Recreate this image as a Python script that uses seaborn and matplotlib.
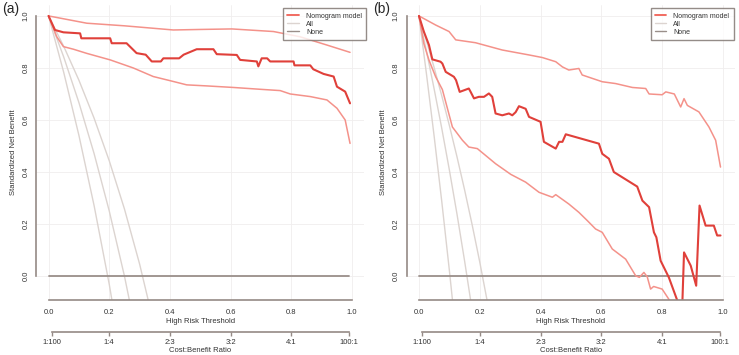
import matplotlib
matplotlib.use("Agg")
from matplotlib import pyplot as plt
from matplotlib.lines import Line2D
import seaborn as sns
import numpy as np
import pandas as pd

# ---- panel (a) data ----
a_up_x = [0.0, 0.126, 0.25, 0.411, 0.5, 0.604, 0.741, 0.828, 0.917, 0.993]
a_up_y = [1.0, 0.972, 0.962, 0.946, 0.948, 0.950, 0.940, 0.920, 0.888, 0.860]

a_mid_x = [0.0, 0.021, 0.049, 0.104, 0.108, 0.203, 0.208, 0.257, 0.29, 0.32, 0.34, 0.37,
           0.378, 0.43, 0.445, 0.488, 0.543, 0.554, 0.62, 0.631, 0.686, 0.691, 0.702,
           0.72, 0.73, 0.807, 0.81, 0.862, 0.872, 0.906, 0.939, 0.95, 0.977, 0.993]
a_mid_y = [1.0, 0.946, 0.937, 0.933, 0.914, 0.914, 0.895, 0.895, 0.857, 0.851, 0.825, 0.825,
           0.837, 0.837, 0.851, 0.872, 0.872, 0.853, 0.850, 0.831, 0.825, 0.806, 0.837,
           0.837, 0.825, 0.825, 0.810, 0.810, 0.795, 0.777, 0.767, 0.728, 0.709, 0.664]

a_lo_x = [0.0, 0.027, 0.049, 0.082, 0.126, 0.203, 0.279, 0.345, 0.411, 0.455, 0.521,
          0.609, 0.697, 0.763, 0.796, 0.862, 0.917, 0.95, 0.977, 0.993]
a_lo_y = [1.0, 0.920, 0.882, 0.872, 0.856, 0.831, 0.800, 0.767, 0.748, 0.735, 0.731,
          0.725, 0.718, 0.713, 0.700, 0.690, 0.677, 0.645, 0.600, 0.510]

a_all_x = [0.0, 0.05, 0.1, 0.15, 0.2, 0.25, 0.3, 0.35]
a_all_y1 = [1.0, 0.783, 0.541, 0.271, -0.032, -0.376, -0.6, -0.9]
a_all_y2 = [1.0, 0.842, 0.667, 0.471, 0.25, 0.0, -0.286, -0.6]
a_all_y3 = [1.0, 0.883, 0.753, 0.607, 0.443, 0.258, 0.046, -0.199]

# ---- panel (b) data ----
b_up_x = [0.0, 0.055, 0.099, 0.121, 0.186, 0.274, 0.362, 0.406, 0.45, 0.472, 0.493, 0.526,
          0.537, 0.603, 0.647, 0.702, 0.746, 0.757, 0.80, 0.812, 0.84, 0.861, 0.872, 0.883,
          0.921, 0.954, 0.976, 0.992]
b_up_y = [1.0, 0.965, 0.940, 0.908, 0.897, 0.869, 0.850, 0.840, 0.824, 0.804, 0.792, 0.798,
          0.773, 0.747, 0.740, 0.725, 0.721, 0.700, 0.697, 0.708, 0.700, 0.650, 0.682, 0.656,
          0.631, 0.573, 0.522, 0.419]

b_mid_x = [0.0, 0.016, 0.033, 0.044, 0.071, 0.077, 0.088, 0.115, 0.122, 0.134, 0.164,
           0.170, 0.181, 0.197, 0.214, 0.23, 0.241, 0.252, 0.274, 0.296, 0.307, 0.318,
           0.329, 0.351, 0.362, 0.40, 0.411, 0.45, 0.461, 0.472, 0.483, 0.592, 0.603,
           0.625, 0.641, 0.718, 0.735, 0.757, 0.773, 0.781, 0.795, 0.822, 0.858, 0.866,
           0.872, 0.894, 0.912, 0.923, 0.943, 0.97, 0.981, 0.992]
b_mid_y = [1.0, 0.940, 0.888, 0.833, 0.824, 0.817, 0.785, 0.766, 0.753, 0.708, 0.721,
           0.708, 0.683, 0.689, 0.689, 0.702, 0.689, 0.625, 0.618, 0.625, 0.618, 0.630,
           0.653, 0.643, 0.612, 0.593, 0.516, 0.490, 0.516, 0.516, 0.545, 0.509, 0.470,
           0.451, 0.400, 0.344, 0.290, 0.265, 0.168, 0.149, 0.059, -0.005, -0.12, -0.12,
           0.091, 0.040, -0.037, 0.271, 0.194, 0.194, 0.156, 0.156]

b_lo_x = [0.0, 0.016, 0.033, 0.055, 0.077, 0.11, 0.143, 0.164, 0.192, 0.252, 0.302,
          0.351, 0.395, 0.439, 0.45, 0.493, 0.526, 0.554, 0.581, 0.603, 0.636, 0.68,
          0.713, 0.725, 0.74, 0.751, 0.762, 0.772, 0.80, 0.822, 0.84]
b_lo_y = [1.0, 0.894, 0.830, 0.766, 0.717, 0.573, 0.522, 0.496, 0.490, 0.432, 0.391,
          0.361, 0.322, 0.303, 0.313, 0.277, 0.245, 0.213, 0.181, 0.168, 0.104, 0.065,
          0.001, -0.005, 0.014, -0.003, -0.050, -0.040, -0.050, -0.089, -0.13]

b_all_x = [0.0, 0.025, 0.05, 0.075, 0.1, 0.125, 0.15, 0.175, 0.2, 0.225, 0.25]
b_all_y1 = [1.0, 0.774, 0.537, 0.287, 0.022, -0.257, -0.55, -0.85, -1.1, -1.4, -1.7]
b_all_y2 = [1.0, 0.863, 0.719, 0.568, 0.408, 0.239, 0.059, -0.131, -0.33, -0.55, -0.78]
b_all_y3 = [1.0, 0.903, 0.801, 0.693, 0.579, 0.459, 0.332, 0.197, 0.054, -0.099, -0.262]

x_ticks = [0.0, 0.2, 0.4, 0.6, 0.8, 1.0]
y_ticks = [0.0, 0.2, 0.4, 0.6, 0.8, 1.0]
cb_pos = [0.01, 0.2, 0.4, 0.6, 0.8, 0.99]
cb_labels = ['1:100', '1:4', '2:3', '3:2', '4:1', '100:1']
legend_labels = ['Nomogram model', 'All', 'None']

# 颜色
c_mid = '#e0403a'
c_ci = '#f4928a'
c_all = '#dcd4d0'
c_none = '#9a8f8a'
c_axis = '#958a85'

sns.set_style('white')
plt.rcParams['font.family'] = ['Liberation Sans', 'DejaVu Sans']

fig = plt.figure(figsize=(7.39, 3.55), dpi=100)
axA = fig.add_axes([36.4 / 739, 55 / 355, 327.9 / 739, 295 / 355])
axB = fig.add_axes([406.8 / 739, 55 / 355, 328.3 / 739, 295 / 355])


def drawPanel(ax, up, mid, lo, allx, ally, anchor_x):
    for xs, ys in zip([allx] * 3, ally):
        sns.lineplot(x=xs, y=ys, ax=ax, color=c_all, lw=1.0, sort=False, estimator=None)
    ax.axhline(0, xmin=0.04 / 1.08, xmax=1.03 / 1.08, color=c_none, lw=1.3)
    sns.lineplot(x=up[0], y=up[1], ax=ax, color=c_ci, lw=1.1, sort=False, estimator=None)
    sns.lineplot(x=lo[0], y=lo[1], ax=ax, color=c_ci, lw=1.1, sort=False, estimator=None)
    sns.lineplot(x=mid[0], y=mid[1], ax=ax, color=c_mid, lw=1.5, sort=False, estimator=None)

    ax.set_xlim(-0.04, 1.04)
    ax.set_ylim(-0.092, 1.042)
    ax.set_xticks(x_ticks)
    ax.set_yticks(y_ticks)
    ax.set_xticklabels(['%.1f' % v for v in x_ticks], fontsize=5.5)
    ax.set_yticklabels(['%.1f' % v for v in y_ticks], fontsize=5.5, rotation=90, va='center')
    ax.grid(True, color='#f0eeee', lw=0.6)
    ax.set_axisbelow(True)
    for s in ['top', 'right']:
        ax.spines[s].set_visible(False)
    ax.spines['left'].set_bounds(0, 1)
    ax.spines['bottom'].set_bounds(0, 1)
    for s in ['left', 'bottom']:
        ax.spines[s].set_color(c_axis)
        ax.spines[s].set_linewidth(1.2)
    ax.tick_params(axis='both', direction='out', length=3, width=1.0, color=c_axis,
                   labelcolor='#333333', pad=2)
    ax.tick_params(axis='x', pad=3.5)
    ax.set_xlabel('High Risk Threshold', fontsize=5.5, labelpad=1.5, color='#333333')
    ax.set_ylabel('Standardized Net Benefit', fontsize=5.5, labelpad=4, color='#333333')

    # 第二条x轴 cost:benefit
    sec = ax.secondary_xaxis(-0.108)
    sec.set_xticks(cb_pos)
    sec.set_xticklabels(cb_labels, fontsize=5.5)
    sec.spines['bottom'].set_bounds(0.01, 0.99)
    sec.spines['bottom'].set_color(c_axis)
    sec.spines['bottom'].set_linewidth(1.2)
    sec.tick_params(direction='out', length=3, width=1.0, color=c_axis,
                    labelcolor='#333333', pad=2)
    sec.set_xlabel('Cost:Benefit Ratio', fontsize=5.5, labelpad=1, color='#333333')

    handles = [Line2D([], [], color='#f06055', lw=1.3),
               Line2D([], [], color=c_all, lw=1.0),
               Line2D([], [], color=c_none, lw=1.0)]
    leg = ax.legend(handles, legend_labels, loc='upper right', bbox_to_anchor=(anchor_x, 1.0),
                    fontsize=5.0, frameon=True, fancybox=False, borderpad=0.6,
                    handlelength=1.7, labelspacing=0.15, handletextpad=1.0)
    leg.get_frame().set_edgecolor('#7a6f6a')
    leg.get_frame().set_linewidth(1.0)
    for t in leg.get_texts():
        t.set_color('#333333')


drawPanel(axA, (a_up_x, a_up_y), (a_mid_x, a_mid_y), (a_lo_x, a_lo_y),
          a_all_x, [a_all_y1, a_all_y2, a_all_y3], 1.017)
drawPanel(axB, (b_up_x, b_up_y), (b_mid_x, b_mid_y), (b_lo_x, b_lo_y),
          b_all_x, [b_all_y1, b_all_y2, b_all_y3], 1.006)

fig.text(2 / 739, 1 - 9 / 355, '(a)', fontsize=10, va='center', ha='left')
fig.text(373 / 739, 1 - 9 / 355, '(b)', fontsize=10, va='center', ha='left')

fig.savefig('out.png', dpi=100)
